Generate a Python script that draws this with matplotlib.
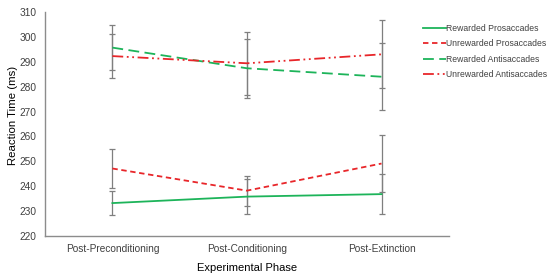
import matplotlib
matplotlib.use("Agg")
import matplotlib.pyplot as plt

phases = ["Post-Preconditioning", "Post-Conditioning", "Post-Extinction"]
series_names = ["Rewarded Prosaccades", "Unrewarded Prosaccades",
                "Rewarded Antisaccades", "Unrewarded Antisaccades"]
rew_pro = [233.2, 235.8, 236.8]
rew_pro_err = [4.9, 7.0, 8.0]
unrew_pro = [247.1, 238.2, 249.1]
unrew_pro_err = [7.7, 6.0, 11.4]
rew_anti = [295.7, 287.4, 284.0]
rew_anti_err = [9.0, 11.9, 13.5]
unrew_anti = [292.3, 289.4, 293.0]
unrew_anti_err = [9.0, 12.7, 13.7]

plt.rcParams['font.family'] = ['Liberation Sans', 'DejaVu Sans']

fig = plt.figure(figsize=(5.5, 2.74), dpi=100)
ax = fig.add_axes([0.082, 0.139, 0.734, 0.817])

green = '#1db45a'
red = '#e8262a'
ecol = '#7f7f7f'
x = [0.5, 1.5, 2.5]

styles = [
    (rew_pro, rew_pro_err, green, '-'),
    (unrew_pro, unrew_pro_err, red, (0, (3, 2))),
    (rew_anti, rew_anti_err, green, (0, (6, 3))),
    (unrew_anti, unrew_anti_err, red, (0, (6, 2, 1, 2, 1, 2))),
]
for (vals, errs, col, ls), name in zip(styles, series_names):
    ax.errorbar(x, vals, yerr=errs, ecolor=ecol, elinewidth=0.9, capsize=2.5,
                capthick=0.9, fmt='none', zorder=1)
    ax.plot(x, vals, color=col, linestyle=ls, linewidth=1.3, label=name, zorder=2)

ax.set_xlim(0, 3)
ax.set_ylim(220, 310)
ax.set_yticks(range(220, 311, 10))
ax.set_xticks(x)
ax.set_xticklabels(phases)
ax.tick_params(axis='both', length=0, labelsize=7.3, colors='#404040', pad=6)
for s in ['top', 'right']:
    ax.spines[s].set_visible(False)
for s in ['left', 'bottom']:
    ax.spines[s].set_color('#8c8c8c')
    ax.spines[s].set_linewidth(1.0)

ax.set_xlabel("Experimental Phase", fontsize=8, labelpad=6)
ax.set_ylabel("Reaction Time (ms)", fontsize=8.2)
ax.yaxis.set_label_coords(-0.068, 0.54)

leg = fig.legend(loc='upper left', bbox_to_anchor=(423 / 550, 1 - 24 / 274),
                 frameon=False, fontsize=6.2, handlelength=2.7, handletextpad=0.0,
                 labelspacing=0.75, borderaxespad=0, borderpad=0)
for t in leg.get_texts():
    t.set_color('#404040')

fig.savefig("out.png", dpi=100)
